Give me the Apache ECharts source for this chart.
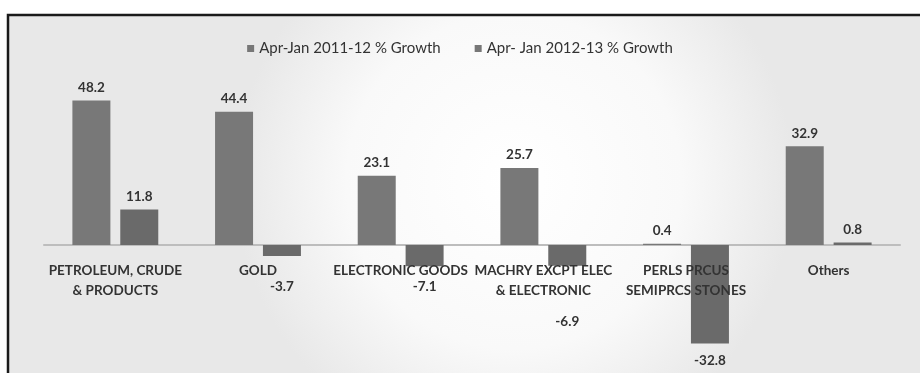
<!DOCTYPE html>
<html>
<head>
<meta charset="utf-8">
<script src="https://cdn.jsdelivr.net/npm/echarts@6/dist/echarts.min.js"></script>
<style>
  html, body { margin: 0; padding: 0; background: #fff; }
  #chart { width: 920px; height: 373px; }
</style>
</head>
<body>
<div id="chart"></div>
<script>
// Import growth by commodity group, Apr-Jan 2011-12 vs Apr-Jan 2012-13
const categories = [
  'PETROLEUM, CRUDE\n& PRODUCTS',
  'GOLD',
  'ELECTRONIC GOODS',
  'MACHRY EXCPT ELEC\n& ELECTRONIC',
  'PERLS PRCUS\nSEMIPRCS STONES',
  'Others'
]
const seriesNames = ['Apr-Jan 2011-12 % Growth', 'Apr- Jan 2012-13 % Growth']
const growth1112 = [48.2, 44.4, 23.1, 25.7, 0.4, 32.9]
const growth1213 = [11.8, -3.7, -7.1, -6.9, -32.8, 0.8]

const FONT = 'Lato, "Open Sans", sans-serif'
const TEXT = '#333'

// the original pushes the negative labels down past the category names
const labelOffsets = { 1: [0, 21], 2: [0, 10], 3: [0, 46], 4: [0, 7] }

const labelFont = { fontFamily: FONT, fontSize: 13.5, fontWeight: 'bold', color: TEXT }

const chart = echarts.init(document.getElementById('chart'))
chart.setOption({
  backgroundColor: '#fff',
  animation: false,
  graphic: [
    {
      type: 'rect', z: -10, silent: true,
      shape: { x: 8, y: 15, width: 920, height: 370 },
      style: {
        fill: {
          type: 'radial', x: 0.55, y: 0.45, r: 0.75,
          colorStops: [{ offset: 0, color: '#ffffff' }, { offset: 0.6, color: '#f9f9f9' }, { offset: 1, color: '#e8e8e8' }]
        },
        stroke: '#1a1a1a', lineWidth: 2.5
      }
    }
  ],
  legend: {
    top: 36, left: 'center',
    icon: 'rect', itemWidth: 7, itemHeight: 7, itemGap: 34, itemStyle: { color: '#777' },
    textStyle: { fontFamily: FONT, fontSize: 15, color: TEXT },
    data: seriesNames
  },
  // grid 0 holds the bars; grid 1 ends at the zero line and only carries the
  // category labels (v6 no longer moves labels along with an onZero axis line)
  grid: [
    { left: 44, right: 20, top: 65, height: 300, outerBoundsMode: 'none' },
    { left: 44, right: 20, top: 65, height: 180, outerBoundsMode: 'none' }
  ],
  xAxis: [
    {
      type: 'category', data: categories, gridIndex: 0,
      axisLine: { onZero: true, lineStyle: { color: '#bdbdbd', width: 2 } },
      axisTick: { show: false },
      axisLabel: { show: false }
    },
    {
      type: 'category', data: categories, gridIndex: 1, z: 10,
      axisLine: { show: false },
      axisTick: { show: false },
      axisLabel: Object.assign({ interval: 0, margin: 16, lineHeight: 20 }, labelFont)
    }
  ],
  yAxis: [
    { type: 'value', min: -40, max: 60, show: false, gridIndex: 0 },
    { type: 'value', min: 0, max: 60, show: false, gridIndex: 1 }
  ],
  series: [
    {
      name: seriesNames[0], type: 'bar', barWidth: 38, barGap: '26%',
      itemStyle: { color: '#787878' },
      label: Object.assign({ show: true, position: 'top', distance: 6 }, labelFont),
      data: growth1112
    },
    {
      name: seriesNames[1], type: 'bar', barWidth: 38,
      itemStyle: { color: '#6a6a6a' },
      label: Object.assign({ show: true, position: 'top', distance: 6 }, labelFont),
      data: growth1213.map(function (v, i) {
        if (v >= 0) return v
        return { value: v, label: { position: 'bottom', distance: 3, offset: labelOffsets[i] || [0, 0] } }
      })
    }
  ]
})
</script>
</body>
</html>
